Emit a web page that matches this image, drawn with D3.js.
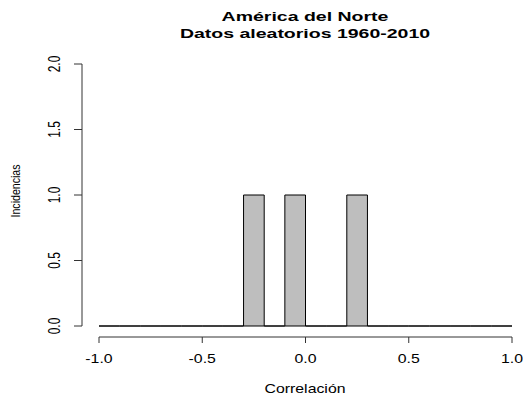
<!DOCTYPE html>
<html><head><meta charset="utf-8">
<script src="https://cdn.jsdelivr.net/npm/d3@7"></script>
<style>
html,body{margin:0;padding:0;background:#fff;}
svg{display:block;}
text{font-family:"Liberation Sans",Arial,sans-serif;fill:#000;}
</style></head>
<body>
<script>
const title1 = "América del Norte";
const title2 = "Datos aleatorios 1960-2010";
const xLabel = "Correlación";
const yLabel = "Incidencias";
const breaks = [-1.0,-0.9,-0.8,-0.7,-0.6,-0.5,-0.4,-0.3,-0.2,-0.1,0.0,0.1,0.2,0.3,0.4,0.5,0.6,0.7,0.8,0.9,1.0];
const counts = [0,0,0,0,0,0,0,1,0,1,0,0,1,0,0,0,0,0,0,0];
const xTicks = [-1.0,-0.5,0.0,0.5,1.0];
const xTickLabels = ["-1.0","-0.5","0.0","0.5","1.0"];
const yTicks = [0.0,0.5,1.0,1.5,2.0];
const yTickLabels = ["0.0","0.5","1.0","1.5","2.0"];

const W = 523, H = 396;
const SX = 1.32; // horizontal stretch of glyphs in the reference
const svg = d3.select("body").append("svg").attr("width", W).attr("height", H);

const x = d3.scaleLinear().domain([-1, 1]).range([99, 512]);
const y = d3.scaleLinear().domain([0, 2]).range([326, 64]);

const bins = counts.map((c, i) => ({x0: breaks[i], x1: breaks[i + 1], n: c}));

// bars (paths so that empty bins still draw as a line on the baseline)
svg.append("g").selectAll("path").data(bins).join("path")
  .attr("d", d => {
    const x0 = x(d.x0), x1 = x(d.x1), y0 = y(0), y1 = y(d.n);
    return `M${x0},${y0}V${y1}H${x1}V${y0}Z`;
  })
  .attr("fill", "#BEBEBE")
  .attr("stroke", "#000")
  .attr("stroke-width", 1);

// x axis
const gx = svg.append("g").attr("transform", "translate(0,337)");
gx.append("line").attr("x1", x(-1)).attr("x2", x(1)).attr("y1", 0).attr("y2", 0)
  .attr("stroke", "#333").attr("stroke-width", 1);
gx.selectAll("line.t").data(xTicks).join("line").attr("class", "t")
  .attr("x1", d => x(d)).attr("x2", d => x(d)).attr("y1", 0).attr("y2", 6)
  .attr("stroke", "#333").attr("stroke-width", 1);
gx.selectAll("text").data(xTicks).join("text")
  .attr("transform", d => `translate(${x(d)},26) scale(${SX},1)`)
  .attr("text-anchor", "middle").attr("font-size", 12)
  .text((d, i) => xTickLabels[i]);

// y axis
const gy = svg.append("g").attr("transform", "translate(82,0)");
gy.append("line").attr("x1", 0).attr("x2", 0).attr("y1", y(0)).attr("y2", y(2))
  .attr("stroke", "#333").attr("stroke-width", 1);
gy.selectAll("line.t").data(yTicks).join("line").attr("class", "t")
  .attr("x1", 0).attr("x2", -8).attr("y1", d => y(d)).attr("y2", d => y(d))
  .attr("stroke", "#333").attr("stroke-width", 1);
gy.selectAll("text").data(yTicks).join("text")
  .attr("transform", d => `translate(-22,${y(d)}) scale(${SX},1) rotate(-90)`)
  .attr("text-anchor", "middle").attr("font-size", 12)
  .text((d, i) => yTickLabels[i]);

// titles
svg.append("text").attr("transform", `translate(305,20.5) scale(1.5,1)`)
  .attr("text-anchor", "middle").attr("font-size", 13).attr("font-weight", "bold").text(title1);
svg.append("text").attr("transform", `translate(305,37.5) scale(1.5,1)`)
  .attr("text-anchor", "middle").attr("font-size", 13).attr("font-weight", "bold").text(title2);

// axis labels
svg.append("text").attr("transform", `translate(305,392.5) scale(${SX},1)`)
  .attr("text-anchor", "middle").attr("font-size", 12).text(xLabel);
svg.append("text").attr("transform", `translate(20,191) scale(1.2,1) rotate(-90)`)
  .attr("text-anchor", "middle").attr("font-size", 10.6).text(yLabel);
</script>
</body></html>
